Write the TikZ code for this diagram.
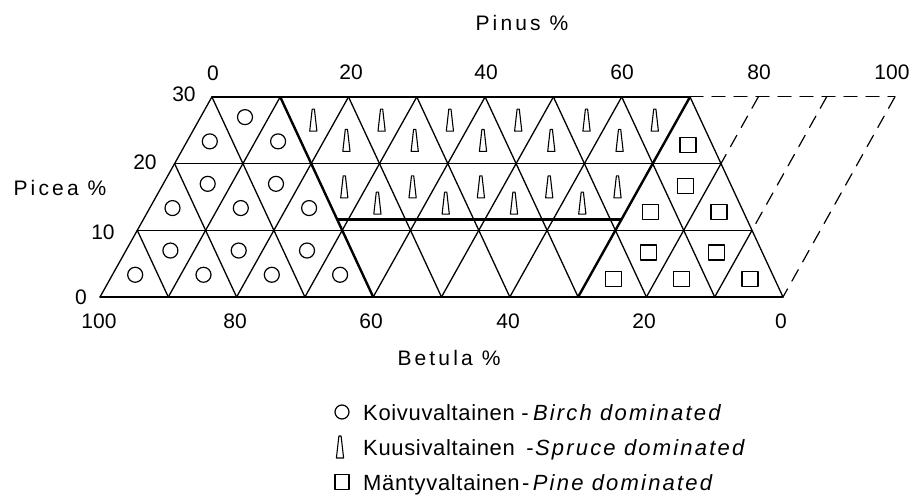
\documentclass[tikz,border=0pt]{standalone}
\usepackage{fontspec}
\setmainfont{Liberation Sans}
\newfontfamily\lblfont[LetterSpace=15]{Liberation Sans}
\newfontfamily\legfont[LetterSpace=3]{Liberation Sans}
\newfontfamily\legitfont[LetterSpace=10]{Liberation Sans}
\usetikzlibrary{calc}
\tikzset{
  gridline/.style={line width=1.3pt},
  heavyline/.style={line width=2.4pt},
  dashline/.style={line width=1.2pt, dash pattern=on 13pt off 9pt},
  birch/.style={circle, draw, line width=1.2pt, minimum size=15pt, inner sep=0pt},
  pine/.style={rectangle, draw, line width=1.2pt, minimum width=16pt, minimum height=15pt, inner sep=0pt},
  spruce/.pic={\draw[line width=1.1pt, line join=round] (-3.6,11) -- (3.6,11) -- (1.1,-11) -- (-1.1,-11) -- cycle;},
  num/.style={inner sep=0pt, font=\fontsize{21}{24}\selectfont},
  word/.style={inner sep=0pt, font=\lblfont\fontsize{21}{24}\selectfont},
  leg/.style={inner sep=0pt, anchor=base west, font=\legfont\fontsize{22}{26}\selectfont},
  legit/.style={inner sep=0pt, anchor=base west, font=\legitfont\itshape\fontsize{22}{26}\selectfont},
}
\begin{document}
\begin{tikzpicture}[x=1pt, y=-1pt, line cap=round, line join=round]
\useasboundingbox (0,0) rectangle (912,497);

% lattice points
\foreach \r in {0,...,3}{
  \foreach \i in {0,...,10}{
    \coordinate (p\i-\r) at ({100+68.3*\i+37.3*\r},{297-66.7*\r});
  }
}

% horizontal lines
\draw[gridline] (p0-0) -- (p10-0);
\draw[gridline] (p0-1) -- (p9-1);
\draw[gridline] (p0-2) -- (p8-2);
\draw[gridline] (p0-3) -- (p7-3);

% rising edges
\foreach \i/\k in {0/3,1/3,2/3,3/3,4/3,5/3,6/3,8/2,9/1}
  \draw[gridline] (p\i-0) -- (p\i-\k);
\draw[heavyline] (p7-0) -- (p7-3);

% falling edges
\foreach \j/\e/\m in {1/0/1,2/0/2,3/0/3,5/2/3,6/3/3,7/4/3,8/5/3,9/6/3,10/7/3}
  \draw[gridline] (p\j-0) -- (p\e-\m);
\draw[heavyline] (p4-0) -- (p1-3);

% heavy horizontal divider
\coordinate (hl) at ($(p4-0)!0.387!(p1-3)$);
\coordinate (hr) at ($(p7-0)!0.387!(p7-3)$);
\draw[heavyline] (hl) -- (hr);

% dashed extension
\draw[dashline] (p7-3) -- (p10-3);
\draw[dashline] (p8-3) -- (p8-2);
\draw[dashline] (p9-3) -- (p9-1);
\draw[dashline] (p10-3) -- (p10-0);

% birch (circles)
\foreach \i/\r in {0/0,1/0,2/0,3/0,0/1,1/1,2/1,0/2,1/2}
  \node[birch] (cu\i-\r) at ({100+68.3*(\i+1/3)+37.3*(\r+1/3)},{297-66.7*(\r+1/3)}) {};
\foreach \i/\r in {0/0,1/0,2/0,0/1,1/1,0/2}
  \node[birch] (cd\i-\r) at ({100+68.3*(\i+2/3)+37.3*(\r+2/3)},{297-66.7*(\r+2/3)-2}) {};

% spruce
\foreach \i/\r/\dy in {3/1/-5,4/1/-5,5/1/-5,6/1/-5,2/2/-1,3/2/-1,4/2/-1,5/2/-1,6/2/-1}
  \pic (su\i-\r) at ({100+68.3*(\i+1/3)+37.3*(\r+1/3)},{297-66.7*(\r+1/3)+\dy}) {spruce};
\foreach \i/\r in {2/1,3/1,4/1,5/1,6/1,1/2,2/2,3/2,4/2,5/2,6/2}
  \pic (sd\i-\r) at ({100+68.3*(\i+2/3)+37.3*(\r+2/3)},{297-66.7*(\r+2/3)+1}) {spruce};

% pine (squares)
\foreach \i/\r in {7/0,8/0,9/0,7/1,8/1,7/2}
  \node[pine] (qu\i-\r) at ({100+68.3*(\i+1/3)+37.3*(\r+1/3)},{297-66.7*(\r+1/3)+4}) {};
\foreach \i/\r in {7/0,8/0,7/1}
  \node[pine] (qd\i-\r) at ({100+68.3*(\i+2/3)+37.3*(\r+2/3)},{297-66.7*(\r+2/3)}) {};

% axis labels
\node[word] (pinus) at (522,23) {Pinus \%};
\node[word] (picea) at (60,188) {Picea \%};
\node[word] (betula) at (449,358) {Betula \%};

\node[num] (t0) at (213,73) {0};
\node[num] (t20) at (351,72) {20};
\node[num] (t40) at (486,72) {40};
\node[num] (t60) at (622,72) {60};
\node[num] (t80) at (759,72) {80};
\node[num] (t100) at (892,72) {100};

\node[num] (l30) at (184,94) {30};
\node[num] (l20) at (145,162) {20};
\node[num] (l10) at (103,232) {10};
\node[num] (l0) at (81,297) {0};

\node[num] (b100) at (99,321) {100};
\node[num] (b80) at (235,321) {80};
\node[num] (b60) at (371,321) {60};
\node[num] (b40) at (508,321) {40};
\node[num] (b20) at (644,321) {20};
\node[num] (b0) at (781,321) {0};

% legend
\node[birch, minimum size=14pt] (legc) at (342,412) {};
\pic (legs) at (340,447) {spruce};
\node[pine, minimum width=14pt, minimum height=15pt] (legq) at (342,482) {};

\node[leg] (k1) at (363,420) {Koivuvaltainen};
\node[leg] (k1d) at ($(k1.base east)+(6,0)$) {-};
\node[legit] (k1e) at ($(k1d.base east)+(4,0)$) {Birch dominated};

\node[leg] (k2) at (363,455) {Kuusivaltainen};
\node[leg] (k2d) at ($(k2.base east)+(11,0)$) {-};
\node[legit] (k2e) at ($(k2d.base east)+(1,0)$) {Spruce dominated};

\node[leg] (k3) at (363,490) {Mäntyvaltainen};
\node[leg] (k3d) at ($(k3.base east)+(2,0)$) {-};
\node[legit] (k3e) at ($(k3d.base east)+(3,0)$) {Pine dominated};
\end{tikzpicture}
\end{document}
